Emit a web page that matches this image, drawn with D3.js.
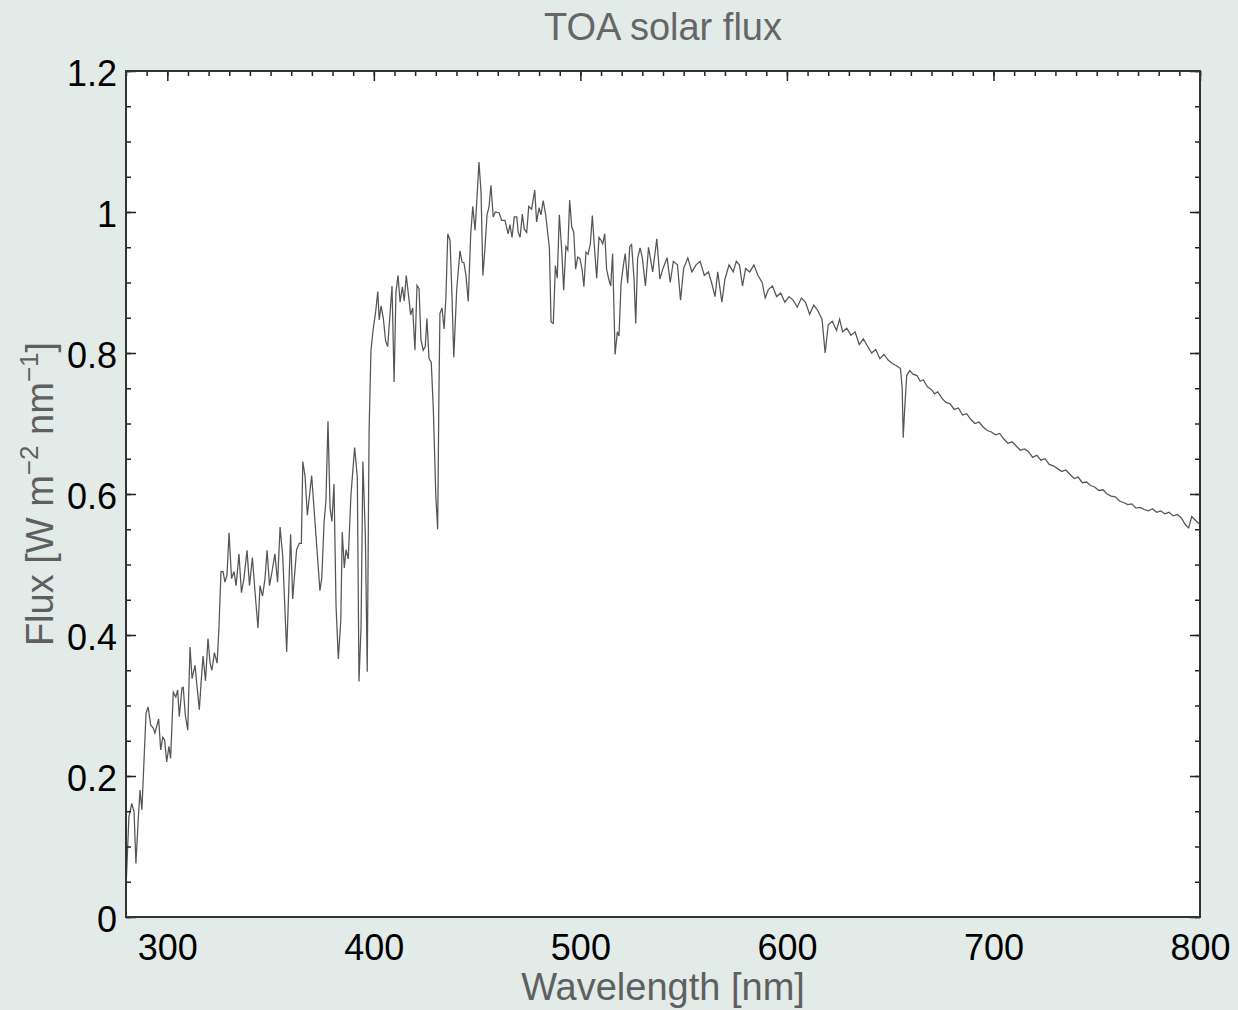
<!DOCTYPE html>
<html><head><meta charset="utf-8">
<script src="https://cdn.jsdelivr.net/npm/d3@7"></script>
<style>
html,body{margin:0;padding:0;background:#e3ebe8;}
svg{display:block;}
text{font-family:"Liberation Sans",Arial,Helvetica,sans-serif;}
</style></head><body>
<svg id="chart" width="1238" height="1010"></svg>
<script>
// Wavelength [nm]
const wavelength = [
280.0,281.4,282.8,283.9,284.8,286.0,286.8,287.7,289.7,290.7,292.0,293.2,294.0,295.8,296.8,297.8,298.7,299.7,300.8,301.6,
302.9,304.1,305.0,305.8,307.1,307.7,308.7,309.9,311.0,312.0,313.4,315.5,
316.3,317.3,318.5,319.7,320.7,321.6,322.8,324.1,325.0,326.0,327.0,327.9,328.9,329.9,331.1,332.3,333.3,334.7,335.9,337.1,
338.6,339.8,341.2,342.5,343.9,344.9,346.1,347.3,348.3,349.5,350.7,352.1,353.4,
354.6,355.9,357.8,359.7,360.7,362.6,363.9,364.9,365.6,366.7,367.8,369.9,372.0,373.9,374.8,375.9,376.8,377.8,378.8,379.7,
380.7,381.7,382.8,384.0,384.7,385.7,386.5,387.6,388.9,390.7,392.0,392.8,393.8,394.7,395.9,396.8,397.7,398.6,399.7,400.9,
401.9,402.6,403.5,404.6,405.7,406.7,408.8,409.8,410.7,411.7,412.7,413.8,414.7,415.7,416.9,417.8,418.8,419.9,420.9,421.9,
422.8,423.9,424.9,425.7,426.7,427.8,428.8,430.0,430.9,431.5,432.0,433.0,434.0,434.9,435.8,436.9,437.8,438.7,440.1,441.7,
442.7,443.6,444.6,445.7,446.9,447.9,449.0,449.8,450.9,451.9,452.8,453.8,454.8,455.8,456.7,457.8,458.8,460.6,461.9,463.5,
465.0,465.9,466.9,468.0,469.2,469.9,470.8,471.9,472.8,474.0,475.0,476.4,477.9,478.8,480.0,480.9,482.0,483.2,485.0,485.8,
486.9,487.9,488.8,489.8,491.0,491.9,493.0,493.9,494.8,495.8,496.8,497.7,498.7,499.8,500.8,501.7,502.7,503.7,504.8,505.8,
506.7,507.9,509.0,510.0,510.8,511.8,512.7,513.7,514.7,515.6,516.8,517.9,518.7,519.7,520.8,521.7,522.9,523.9,524.8,526.0,
526.8,527.7,528.9,
530,531.5,533,535,537,538.5,540,542,543.5,545,547,548.5,550,552,554,556,558,560,562,563.5,565.2,566.5,568.5,570,572,574,575.5,577,578.5,580,
582,584,586,588,589.5,591,593,595,597,599,601,603,605,607,609,611,613,615,617,618.5,620,622,624,625.5,627,629,631,633,635,637,639,
641,643,645,647,649,651,653,655,655.8,656.3,657.0,658,659.5,661,663,664.5,666,668,670,671.5,673,675,677,679,681,683,685,687,689,
691,693,695,697,699,701,703,705,707,709,711,713,715,717,719,721,723,725,727,729,731,733,735,737,739,741,743,745,747,749,
751,753,755,757,759,761,763,765,767,769,771,773,775,777,779,781,783,785,787,789,791,793,794.5,796,798,800
];
// TOA solar flux [W m-2 nm-1]
const flux = [
0.040,0.142,0.161,0.149,0.076,0.142,0.180,0.152,0.289,0.298,0.272,0.268,0.261,0.281,0.237,0.255,0.251,0.220,0.242,0.225,
0.319,0.312,0.322,0.284,0.325,0.326,0.287,0.265,0.383,0.338,0.357,0.294,
0.330,0.370,0.335,0.395,0.360,0.350,0.375,0.360,0.410,0.490,0.490,0.475,0.485,0.545,0.480,0.490,0.470,0.515,0.460,0.480,
0.520,0.470,0.510,0.460,0.410,0.470,0.455,0.480,0.520,0.470,0.490,0.515,0.475,
0.553,0.511,0.376,0.543,0.451,0.521,0.530,0.530,0.646,0.625,0.570,0.626,0.540,0.463,0.481,0.560,0.590,0.703,0.580,0.561,
0.614,0.441,0.366,0.421,0.546,0.495,0.521,0.508,0.598,0.666,0.623,0.334,0.411,0.646,0.540,0.348,0.690,0.804,0.834,0.859,
0.887,0.847,0.867,0.849,0.817,0.809,0.895,0.759,0.886,0.910,0.872,0.894,0.874,0.910,0.879,0.854,0.864,0.804,0.896,0.891,
0.819,0.804,0.809,0.849,0.792,0.787,0.720,0.598,0.550,0.740,0.856,0.864,0.834,0.879,0.969,0.960,0.884,0.794,0.889,0.945,
0.929,0.928,0.910,0.873,0.969,1.008,0.974,1.013,1.071,1.028,0.910,0.949,0.996,1.008,1.038,0.993,1.000,0.999,0.988,0.988,
0.969,0.982,0.964,0.993,0.993,0.971,0.964,0.997,0.976,0.971,1.008,1.004,1.031,0.986,1.006,0.996,1.016,0.996,0.949,0.844,
0.842,0.924,0.906,0.996,0.944,0.889,0.951,0.946,1.017,0.979,0.971,0.919,0.936,0.934,0.919,0.894,0.943,0.940,0.954,0.995,
0.954,0.906,0.964,0.960,0.955,0.969,0.919,0.905,0.895,0.941,0.798,0.830,0.824,0.899,0.924,0.941,0.899,0.951,0.954,0.904,
0.842,0.934,0.949,
0.935,0.895,0.950,0.915,0.962,0.905,0.920,0.935,0.900,0.930,0.925,0.875,0.920,0.935,0.915,0.925,0.930,0.910,0.915,0.900,0.880,0.915,0.872,0.905,0.925,0.915,0.930,0.925,0.895,0.920,
0.915,0.925,0.910,0.900,0.878,0.890,0.895,0.880,0.885,0.872,0.880,0.875,0.865,0.878,0.872,0.855,0.868,0.860,0.848,0.800,0.840,0.845,0.832,0.848,0.830,0.835,0.825,0.830,0.812,0.820,0.810,
0.800,0.805,0.792,0.798,0.790,0.785,0.782,0.778,0.750,0.680,0.720,0.768,0.775,0.770,0.768,0.760,0.762,0.752,0.748,0.742,0.745,0.736,0.730,0.728,0.720,0.722,0.712,0.714,0.706,
0.700,0.702,0.695,0.690,0.688,0.684,0.686,0.678,0.672,0.674,0.668,0.662,0.664,0.660,0.652,0.655,0.648,0.650,0.642,0.640,0.636,0.632,0.634,0.628,0.622,0.624,0.616,0.617,0.612,0.610,
0.605,0.606,0.600,0.597,0.596,0.590,0.588,0.585,0.586,0.580,0.581,0.578,0.576,0.579,0.574,0.576,0.572,0.574,0.569,0.571,0.566,0.556,0.552,0.568,0.562,0.557
];
const xTicks = [300, 400, 500, 600, 700, 800];
const xTickLabels = ["300", "400", "500", "600", "700", "800"];
const yTicks = [0, 0.2, 0.4, 0.6, 0.8, 1.0, 1.2];
const yTickLabels = ["0", "0.2", "0.4", "0.6", "0.8", "1", "1.2"];
const xMinorStep = 10, yMinorStep = 0.05;

const data = wavelength.map((w, i) => [w, flux[i]]);

const svg = d3.select("#chart");
const L = 126, R = 1200, T = 71, B = 917;
const x = d3.scaleLinear().domain([280, 800]).range([L, R]);
const y = d3.scaleLinear().domain([0, 1.2]).range([B, T]);

svg.append("rect").attr("x", L).attr("y", T).attr("width", R - L).attr("height", B - T).attr("fill", "#ffffff");

svg.append("clipPath").attr("id", "clip").append("rect")
  .attr("x", L).attr("y", T).attr("width", R - L).attr("height", B - T);

svg.append("path").datum(data)
  .attr("clip-path", "url(#clip)")
  .attr("fill", "none").attr("stroke", "#555555").attr("stroke-width", 1.25)
  .attr("d", d3.line().x(d => x(d[0])).y(d => y(d[1])));

const xMinor = d3.range(280, 800.001, xMinorStep);
const yMinor = d3.range(0, 1.2001, yMinorStep);

function clean(g) { g.select(".domain").remove(); g.selectAll(".tick line").attr("stroke", "#222").attr("stroke-width", 1.5); }

// top
svg.append("g").attr("transform", `translate(0,${T})`).call(d3.axisTop(x).tickValues(xMinor).tickSize(-5).tickFormat("")).call(clean);
svg.append("g").attr("transform", `translate(0,${T})`).call(d3.axisTop(x).tickValues(xTicks).tickSize(-10).tickFormat("")).call(clean);
// right
svg.append("g").attr("transform", `translate(${R},0)`).call(d3.axisRight(y).tickValues(yMinor).tickSize(-5).tickFormat("")).call(clean);
svg.append("g").attr("transform", `translate(${R},0)`).call(d3.axisRight(y).tickValues(yTicks).tickSize(-10).tickFormat("")).call(clean);
// left
svg.append("g").attr("transform", `translate(${L},0)`).call(d3.axisLeft(y).tickValues(yMinor).tickSize(-5).tickFormat("")).call(clean);
const gl = svg.append("g").attr("transform", `translate(${L},0)`)
  .call(d3.axisLeft(y).tickValues(yTicks).tickSize(-10).tickPadding(9).tickFormat((d, i) => yTickLabels[i])).call(clean);
gl.selectAll(".tick text").attr("dy", 14).attr("fill", "#000").style("font-size", "36px").style("font-family", '"Liberation Sans",Arial,sans-serif');
// bottom
const gb = svg.append("g").attr("transform", `translate(0,${B})`)
  .call(d3.axisBottom(x).tickValues(xTicks).tickSize(0).tickFormat((d, i) => xTickLabels[i])).call(clean);
gb.selectAll(".tick text").attr("y", 43).attr("dy", 0).attr("fill", "#000").style("font-size", "36px").style("font-family", '"Liberation Sans",Arial,sans-serif');

// frame
svg.append("rect").attr("x", L).attr("y", T).attr("width", R - L).attr("height", B - T)
  .attr("fill", "none").attr("stroke", "#333").attr("stroke-width", 2);

// titles
svg.append("text").attr("x", (L + R) / 2).attr("y", 40).attr("text-anchor", "middle")
  .attr("fill", "#666").style("font-size", "38px").text("TOA solar flux");
svg.append("text").attr("x", (L + R) / 2).attr("y", 1000).attr("text-anchor", "middle")
  .attr("fill", "#5f5f5f").style("font-size", "38px").text("Wavelength [nm]");

const yl = svg.append("text").attr("transform", `translate(53,${(T + B) / 2}) rotate(-90)`)
  .attr("text-anchor", "middle").attr("fill", "#5f5f5f").style("font-size", "38px");
yl.append("tspan").text("Flux [W m");
yl.append("tspan").attr("dy", -15).style("font-size", "26px").text("\u22122");
yl.append("tspan").attr("dy", 15).text(" nm");
yl.append("tspan").attr("dy", -15).style("font-size", "26px").text("\u22121");
yl.append("tspan").attr("dy", 15).text("]");
</script>
</body></html>
